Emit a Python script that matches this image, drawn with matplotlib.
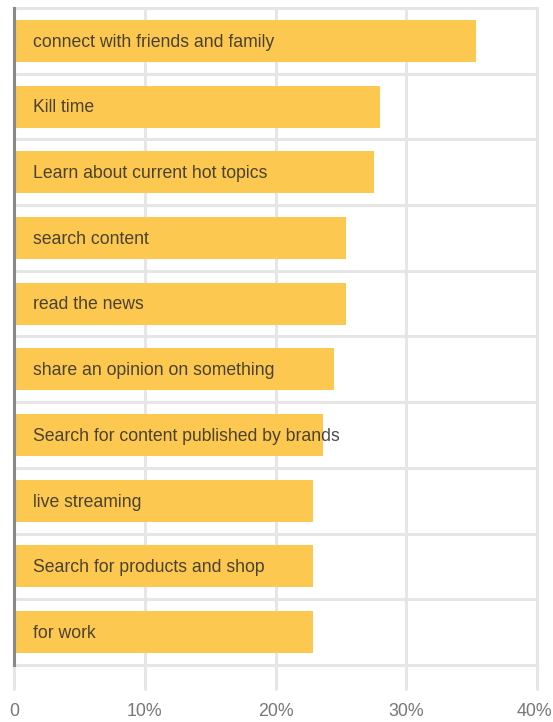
import matplotlib
matplotlib.use("Agg")
from matplotlib import pyplot as plt
from matplotlib.transforms import ScaledTranslation

# usage reasons, top to bottom
reasons = [
    "connect with friends and family",
    "Kill time",
    "Learn about current hot topics",
    "search content",
    "read the news",
    "share an opinion on something",
    "Search for content published by brands",
    "live streaming",
    "Search for products and shop",
    "for work",
]
shares = [35.3, 28.0, 27.5, 25.4, 25.4, 24.5, 23.6, 22.9, 22.9, 22.9]
x_ticks = [0, 10, 20, 30, 40]
x_tick_labels = ["0", "10%", "20%", "30%", "40%"]

plt.rcParams['font.family'] = ['Liberation Sans', 'DejaVu Sans']

fig = plt.figure(figsize=(5.53, 7.22), dpi=100)
ax = fig.add_axes([14 / 553, 1 - 665 / 722, 523 / 553, 657 / 722])

grid_color = '#e6e6e6'
ypos = list(range(len(reasons)))
ax.barh(ypos, shares, height=0.64, color='#fdc850', zorder=2)

for y, label in zip(ypos, reasons):
    ax.text(1.45, y + 0.02, label, va='center', ha='left', fontsize=12.7,
            color='#2b2b2b', alpha=0.85, zorder=3)

ax.set_xlim(0, 40)
ax.set_ylim(len(reasons) - 0.5, -0.5)

ax.set_xticks(x_ticks)
ax.set_xticklabels(x_tick_labels, fontsize=12.8, color='#777777')
ax.set_yticks([])
ax.set_yticks([y - 0.5 for y in range(len(reasons) + 1)], minor=True)
ax.tick_params(axis='y', which='minor', length=0)
ax.tick_params(axis='x', which='major', length=18, width=2.2, color=grid_color,
               direction='out', pad=9)
ax.xaxis.get_major_ticks()[0].tick1line.set_color('#8a8a8a')

# keep the last label inside the figure
last = ax.get_xticklabels()[-1]
last.set_transform(last.get_transform() + ScaledTranslation(-3 / 100, 0, fig.dpi_scale_trans))

ax.grid(axis='x', which='major', color=grid_color, linewidth=2.2, zorder=0)
ax.grid(axis='y', which='minor', color=grid_color, linewidth=2.2, zorder=0)
ax.set_axisbelow(True)

for side in ['top', 'right', 'bottom']:
    ax.spines[side].set_color(grid_color)
    ax.spines[side].set_linewidth(2.2)
ax.spines['left'].set_color('#8a8a8a')
ax.spines['left'].set_linewidth(2.2)
ax.spines['left'].set_zorder(4)

fig.savefig('out.png', dpi=100)
